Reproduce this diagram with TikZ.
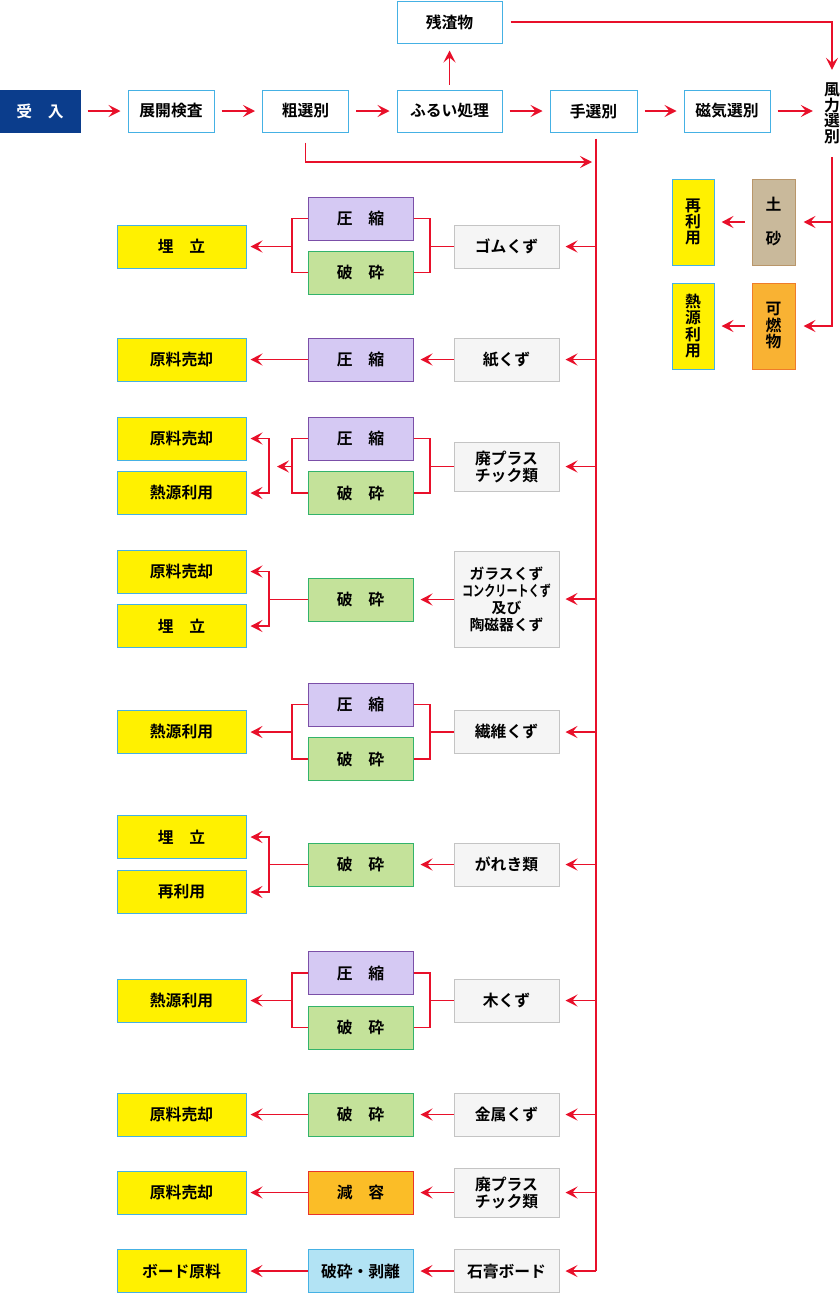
\documentclass[tikz,border=0pt]{standalone}
\usepackage{fontspec}
\usepackage{graphicx}
\usetikzlibrary{arrows.meta}
\newfontfamily\jp{Noto Sans CJK JP Bold}
\newcommand\jpf{\jp\fontsize{15.8}{17}\selectfont}
\definecolor{cblue}{HTML}{45B1E4}
\definecolor{cnavy}{HTML}{0B3D8C}
\definecolor{cred}{HTML}{E8102A}
\definecolor{cyel}{HTML}{FFF100}
\definecolor{cpur}{HTML}{D5C9F3}
\definecolor{cpurb}{HTML}{7B4FA8}
\definecolor{cgre}{HTML}{C4E29A}
\definecolor{cgreb}{HTML}{33B36B}
\definecolor{cgry}{HTML}{F5F5F5}
\definecolor{cgryb}{HTML}{C4C4C4}
\definecolor{ctan}{HTML}{C9B99B}
\definecolor{ctanb}{HTML}{B9966A}
\definecolor{corg}{HTML}{F9B233}
\definecolor{corgb}{HTML}{EF7C2A}
\definecolor{cgen}{HTML}{FBBD27}
\definecolor{cgenb}{HTML}{E8352A}
\definecolor{clb}{HTML}{B2E3F4}
\tikzset{
  base/.style={draw, line width=1pt, inner sep=0pt, font=\jpf, align=center, text=black},
  topbox/.style={base, draw=cblue, fill=white, minimum width=86pt, minimum height=42pt},
  ybox/.style={base, draw=cblue, fill=cyel, minimum width=129pt, minimum height=43pt},
  pbox/.style={base, draw=cpurb, fill=cpur, minimum width=105pt, minimum height=43pt},
  gbox/.style={base, draw=cgreb, fill=cgre, minimum width=105pt, minimum height=43pt},
  wbox/.style={base, draw=cgryb, fill=cgry, minimum width=105pt, minimum height=43pt},
  vbox/.style={base, minimum width=43pt, minimum height=86pt},
  arr/.style={draw=cred, line width=1.3pt, -{Stealth[length=12pt,width=12pt,inset=5pt]}},
  ln/.style={draw=cred, line width=1.3pt},
}
\begin{document}
\begin{tikzpicture}[x=1pt,y=-1pt]
\useasboundingbox (0,0) rectangle (840,1293);
% top row
\node[base, draw=cnavy, fill=cnavy, text=white, minimum width=80pt, minimum height=42pt] (uke) at (40,111) {受　入};
\node[topbox] (tenkai) at (171,111) {展開検査};
\node[topbox] (sosen) at (305.5,111) {粗選別};
\node[topbox, minimum width=105pt] (furui) at (449.5,111) {ふるい処理};
\node[topbox, minimum width=105pt] (zan) at (449.5,22) {残渣物};
\node[topbox, minimum width=87pt] (tesen) at (593.5,111) {手選別};
\node[topbox] (jiki) at (727,111) {磁気選別};
\node[font=\jp\fontsize{15.8}{15.5}\selectfont, align=center, inner sep=0pt, minimum width=20pt, minimum height=87pt] (fu) at (832,113.5) {風\\力\\選\\別};
\draw[arr, shorten <=7pt, shorten >=7pt] (uke) -- (tenkai);
\draw[arr, shorten <=7pt, shorten >=7pt] (tenkai) -- (sosen);
\draw[arr, shorten <=7pt, shorten >=7pt] (sosen) -- (furui);
\draw[arr, shorten <=7pt, shorten >=7pt] (furui) -- (tesen);
\draw[arr, shorten <=7pt, shorten >=7pt] (tesen) -- (jiki);
\draw[arr, shorten <=7pt, shorten >=9pt] (jiki.east) -- (jiki.east -| fu.west);
\draw[arr, shorten <=5pt, shorten >=7pt] (furui.north) -- (zan.south);
\draw[arr, shorten <=8pt] (zan.east) -| (fu.north);
\coordinate (j1) at (592,162);
\draw[arr, shorten <=10pt] (sosen.south) |- (j1);
\coordinate (mainend) at (596,1271);
\draw[ln] ([xshift=2.5pt,yshift=-6pt]tesen.south) -- (mainend);
% right side
\node[vbox, draw=ctanb, fill=ctan] (dosha) at (773.5,222) {土\\[17pt]砂};
\node[vbox, draw=corgb, fill=corg, font=\jp\fontsize{15.8}{16.5}\selectfont] (kanen) at (773.5,326) {可\\燃\\物};
\node[vbox, draw=cblue, fill=cyel, minimum width=42pt, font=\jp\fontsize{15.8}{16}\selectfont] (sai0) at (693,222) {再\\利\\用};
\node[vbox, draw=cblue, fill=cyel, minimum width=42pt, font=\jp\fontsize{15.8}{16.3}\selectfont] (net0) at (693,326) {熱\\源\\利\\用};
\draw[arr, shorten >=8pt] (fu.south) |- (kanen.east);
\draw[arr, shorten >=8pt] (fu.south |- dosha.east) -- (dosha.east);
\draw[arr, shorten <=7pt, shorten >=7pt] (dosha) -- (sai0);
\draw[arr, shorten <=7pt, shorten >=7pt] (kanen) -- (net0);
% row 1
\node[wbox] (g1) at (506.5,246.5) {ゴムくず};
\node[pbox] (p1a) at (360.5,218.5) {圧　縮};
\node[gbox] (p1b) at (360.5,272.5) {破　砕};
\node[ybox] (y1) at (181.5,246.5) {埋　立};
\coordinate (b1r) at (430,246.5);
\coordinate (b1l) at (292,246.5);
\draw[arr, shorten >=6pt] (g1.east -| mainend) -- (g1.east);
\draw[ln] (p1a.east) -| (b1r) |- (p1b.east);
\draw[ln] (b1r) -- (g1.west);
\draw[ln] (p1a.west) -| (b1l) |- (p1b.west);
\draw[arr, shorten >=4pt] (b1l) -- (y1.east);
% row 2
\node[wbox] (g2) at (506.5,359.5) {紙くず};
\node[pbox] (p2) at (360.5,359.5) {圧　縮};
\node[ybox] (y2) at (181.5,359.5) {原料売却};
\draw[arr, shorten >=6pt] (g2.east -| mainend) -- (g2.east);
\draw[arr, shorten >=7pt] (g2.west) -- (p2.east);
\draw[arr, shorten >=4pt] (p2.west) -- (y2.east);
% row 3
\node[wbox, minimum height=49pt] (g3) at (506.5,466.5) {廃プラス\\チック類};
\node[pbox] (p3a) at (360.5,438.5) {圧　縮};
\node[gbox] (p3b) at (360.5,493) {破　砕};
\node[ybox] (y3a) at (181.5,438.5) {原料売却};
\node[ybox] (y3b) at (181.5,493) {熱源利用};
\coordinate (b3r) at (430,466.5);
\coordinate (b3l) at (292,466.5);
\coordinate (b3m) at (269,466.5);
\draw[arr, shorten >=6pt] (g3.east -| mainend) -- (g3.east);
\draw[ln] (p3a.east) -| (b3r) |- (p3b.east);
\draw[ln] (b3r) -- (g3.west);
\draw[ln] (p3a.west) -| (b3l) |- (p3b.west);
\draw[arr, shorten >=8pt] (b3l) -- (b3m);
\draw[arr, shorten >=4pt] (b3m) |- (y3a.east);
\draw[arr, shorten >=4pt] (b3m) |- (y3b.east);
% row 4
\node[wbox, minimum height=96pt, font=\jp\fontsize{14.8}{17}\selectfont] (g4) at (506.5,599) {ガラスくず\\\scalebox{0.75}[1]{コンクリートくず}\\及び\\陶磁器くず};
\node[gbox] (p4) at (360.5,599.5) {破　砕};
\node[ybox] (y4a) at (181.5,571.5) {原料売却};
\node[ybox] (y4b) at (181.5,626) {埋　立};
\coordinate (b4) at (269,599.5);
\draw[arr, shorten >=6pt] (g4.east -| mainend) -- (g4.east);
\draw[arr, shorten >=7pt] (g4.west |- p4.east) -- (p4.east);
\draw[ln] (p4.west) -- (b4);
\draw[arr, shorten >=4pt] (b4) |- (y4a.east);
\draw[arr, shorten >=4pt] (b4) |- (y4b.east);
% row 5
\node[wbox] (g5) at (506.5,732) {繊維くず};
\node[pbox] (p5a) at (360.5,704.5) {圧　縮};
\node[gbox] (p5b) at (360.5,759) {破　砕};
\node[ybox] (y5) at (181.5,732) {熱源利用};
\coordinate (b5r) at (430,732);
\coordinate (b5l) at (292,732);
\draw[arr, shorten >=6pt] (g5.east -| mainend) -- (g5.east);
\draw[ln] (p5a.east) -| (b5r) |- (p5b.east);
\draw[ln] (b5r) -- (g5.west);
\draw[ln] (p5a.west) -| (b5l) |- (p5b.west);
\draw[arr, shorten >=4pt] (b5l) -- (y5.east);
% row 6
\node[wbox] (g6) at (506.5,864.5) {がれき類};
\node[gbox] (p6) at (360.5,864.5) {破　砕};
\node[ybox] (y6a) at (181.5,837) {埋　立};
\node[ybox] (y6b) at (181.5,892) {再利用};
\coordinate (b6) at (269,864.5);
\draw[arr, shorten >=6pt] (g6.east -| mainend) -- (g6.east);
\draw[arr, shorten >=7pt] (g6.west) -- (p6.east);
\draw[ln] (p6.west) -- (b6);
\draw[arr, shorten >=4pt] (b6) |- (y6a.east);
\draw[arr, shorten >=4pt] (b6) |- (y6b.east);
% row 7
\node[wbox] (g7) at (506.5,1000.5) {木くず};
\node[pbox] (p7a) at (360.5,973) {圧　縮};
\node[gbox] (p7b) at (360.5,1027.5) {破　砕};
\node[ybox] (y7) at (181.5,1000.5) {熱源利用};
\coordinate (b7r) at (430,1000.5);
\coordinate (b7l) at (292,1000.5);
\draw[arr, shorten >=6pt] (g7.east -| mainend) -- (g7.east);
\draw[ln] (p7a.east) -| (b7r) |- (p7b.east);
\draw[ln] (b7r) -- (g7.west);
\draw[ln] (p7a.west) -| (b7l) |- (p7b.west);
\draw[arr, shorten >=4pt] (b7l) -- (y7.east);
% row 8
\node[wbox] (g8) at (506.5,1114.5) {金属くず};
\node[gbox] (p8) at (360.5,1114.5) {破　砕};
\node[ybox] (y8) at (181.5,1114.5) {原料売却};
\draw[arr, shorten >=6pt] (g8.east -| mainend) -- (g8.east);
\draw[arr, shorten >=7pt] (g8.west) -- (p8.east);
\draw[arr, shorten >=4pt] (p8.west) -- (y8.east);
% row 9
\node[wbox, minimum height=49pt] (g9) at (506.5,1192.5) {廃プラス\\チック類};
\node[base, draw=cgenb, fill=cgen, minimum width=105pt, minimum height=43pt] (p9) at (360.5,1192.5) {減　容};
\node[ybox] (y9) at (181.5,1192.5) {原料売却};
\draw[arr, shorten >=6pt] (g9.east -| mainend) -- (g9.east);
\draw[arr, shorten >=7pt] (g9.west) -- (p9.east);
\draw[arr, shorten >=4pt] (p9.west) -- (y9.east);
% row 10
\node[wbox] (g10) at (506.5,1271) {石膏ボード};
\node[base, draw=cblue, fill=clb, minimum width=105pt, minimum height=43pt] (p10) at (360.5,1271) {破砕・剥離};
\node[ybox] (y10) at (181.5,1271) {ボード原料};
\draw[arr, shorten >=6pt] (mainend) -- (g10.east);
\draw[arr, shorten >=7pt] (g10.west) -- (p10.east);
\draw[arr, shorten >=4pt] (p10.west) -- (y10.east);
\end{tikzpicture}
\end{document}
